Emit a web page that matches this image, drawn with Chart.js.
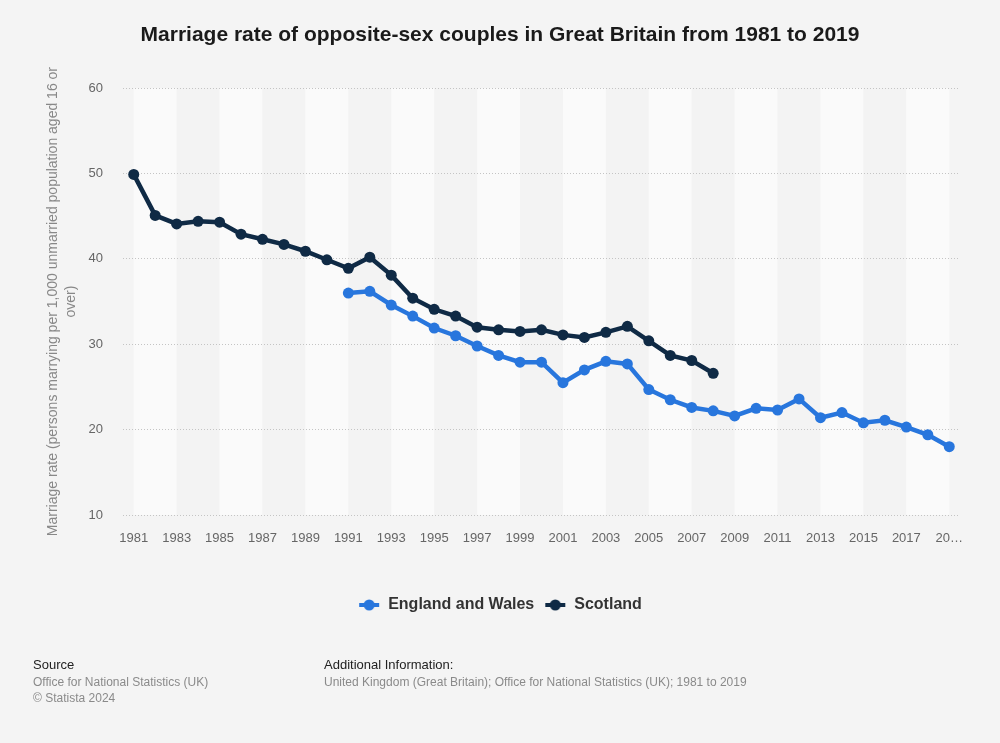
<!DOCTYPE html>
<html>
<head>
<meta charset="utf-8">
<script src="https://cdn.jsdelivr.net/npm/chart.js@4"></script>
<style>
  body { margin: 0; background: #f4f4f4; font-family: "Liberation Sans", Arial, sans-serif; }
  #wrap { position: relative; width: 1000px; height: 743px; }
  .foot { position: absolute; font-size: 12px; line-height: 16px; color: #8a8a8a; }
  .foot b { display: block; font-weight: normal; color: #222; font-size: 13px; margin-bottom: 1px; }
</style>
</head>
<body>
<div id="wrap">
  <canvas id="chart" width="1000" height="743"></canvas>
  <div class="foot" style="left:33px; top:657px;"><b>Source</b>Office for National Statistics (UK)<br>© Statista 2024</div>
  <div class="foot" style="left:324px; top:657px;"><b>Additional Information:</b>United Kingdom (Great Britain); Office for National Statistics (UK); 1981 to 2019</div>
</div>
<script>
const years = ['1981', '1982', '1983', '1984', '1985', '1986', '1987', '1988', '1989', '1990',
  '1991', '1992', '1993', '1994', '1995', '1996', '1997', '1998', '1999', '2000',
  '2001', '2002', '2003', '2004', '2005', '2006', '2007', '2008', '2009', '2010',
  '2011', '2012', '2013', '2014', '2015', '2016', '2017', '2018', '2019'];

const englandWales = [null, null, null, null, null, null, null, null, null, null,
  36.0, 36.2, 34.6, 33.3, 31.9, 31.0, 29.8, 28.7, 27.9, 27.9,
  25.5, 27.0, 28.0, 27.7, 24.7, 23.5, 22.6, 22.2, 21.6, 22.5,
  22.3, 23.6, 21.4, 22.0, 20.8, 21.1, 20.3, 19.4, 18.0];

const scotland = [49.9, 45.1, 44.1, 44.4, 44.3, 42.9, 42.3, 41.7, 40.9, 39.9,
  38.9, 40.2, 38.1, 35.4, 34.1, 33.3, 32.0, 31.7, 31.5, 31.7,
  31.1, 30.8, 31.4, 32.1, 30.4, 28.7, 28.1, 26.6, null, null,
  null, null, null, null, null, null, null, null, null];

const yTicks = [10, 20, 30, 40, 50, 60];

const blue = '#2876dd';
const navy = '#0f2a45';

// little line + dot marker for the legend
function legendMarker (color) {
  const c = document.createElement('canvas');
  c.width = 22;
  c.height = 12;
  const g = c.getContext('2d');
  g.strokeStyle = color;
  g.lineWidth = 4;
  g.beginPath();
  g.moveTo(1, 6);
  g.lineTo(21, 6);
  g.stroke();
  g.fillStyle = color;
  g.beginPath();
  g.arc(11, 6, 5.5, 0, Math.PI * 2);
  g.fill();
  return c;
}

// alternating column bands, drawn before the grid
const bands = {
  id: 'bands',
  beforeDraw (chart) {
    const { ctx, chartArea, scales } = chart;
    ctx.save();
    for (let i = 0; i < years.length - 1; i += 2) {
      const x0 = scales.x.getPixelForValue(i);
      const x1 = scales.x.getPixelForValue(Math.min(i + 2, years.length - 1));
      ctx.fillStyle = (i / 2) % 2 === 0 ? '#fafafa' : '#f3f3f3';
      ctx.fillRect(x0, chartArea.top, x1 - x0, chartArea.bottom - chartArea.top);
    }
    ctx.restore();
  }
};

const series = [
  { label: 'England and Wales', data: englandWales, color: blue },
  { label: 'Scotland', data: scotland, color: navy }
];

new Chart(document.getElementById('chart'), {
  type: 'line',
  data: {
    labels: years,
    datasets: series.map(s => ({
      label: s.label,
      data: s.data,
      borderColor: s.color,
      backgroundColor: s.color,
      pointBackgroundColor: s.color,
      borderWidth: 4.5,
      pointRadius: 5.5,
      pointBorderWidth: 0,
      pointHoverRadius: 6,
      tension: 0,
      spanGaps: false
    }))
  },
  options: {
    responsive: false,
    animation: false,
    layout: { padding: { left: 0, right: 0, top: 0, bottom: 120 } },
    plugins: {
      title: {
        display: true,
        text: 'Marriage rate of opposite-sex couples in Great Britain from 1981 to 2019',
        color: '#1a1a1a',
        font: { family: 'Liberation Sans', size: 21, weight: 'bold' },
        padding: { top: 23, bottom: 40 }
      },
      legend: {
        position: 'bottom',
        labels: {
          usePointStyle: true,
          pointStyleWidth: 22,
          padding: 10,
          color: '#333',
          font: { family: 'Liberation Sans', size: 16, weight: 'bold' },
          generateLabels (chart) {
            return chart.data.datasets.map((ds, i) => ({
              text: ds.label,
              fontColor: '#333',
              pointStyle: legendMarker(ds.borderColor),
              hidden: false,
              lineWidth: 0,
              datasetIndex: i
            }));
          }
        }
      },
      tooltip: { enabled: false }
    },
    scales: {
      x: {
        offset: true,
        grid: { display: false, drawTicks: false },
        border: { display: false },
        ticks: {
          autoSkip: false,
          maxRotation: 0,
          padding: 16,
          color: '#666',
          font: { family: 'Liberation Sans', size: 13 },
          callback: (v, i) => (i % 2 !== 0 ? '' : (i === years.length - 1 ? '20…' : years[i]))
        },
        afterFit: (scale) => { scale.height = 72; }
      },
      y: {
        min: yTicks[0],
        max: yTicks[yTicks.length - 1],
        afterBuildTicks: (scale) => { scale.ticks = yTicks.map(v => ({ value: v })); },
        grid: { color: '#c4c4c4', drawTicks: false, lineWidth: 1 },
        border: { display: false, dash: [1, 2] },
        ticks: {
          padding: 20,
          color: '#666',
          font: { family: 'Liberation Sans', size: 13 }
        },
        title: {
          display: true,
          text: ['Marriage rate (persons marrying per 1,000 unmarried population aged 16 or', 'over)'],
          color: '#888',
          font: { family: 'Liberation Sans', size: 14, lineHeight: 1.3 },
          padding: { top: 44, bottom: 0 }
        },
        afterFit: (scale) => { scale.width = 123; }
      },
      // empty right-hand axis, only keeps space so the legend stays centred on the page
      spacer: {
        position: 'right',
        grid: { display: false },
        border: { display: false },
        ticks: { display: false },
        afterFit: (scale) => { scale.width = 40; }
      }
    }
  },
  plugins: [bands]
});
</script>
</body>
</html>
